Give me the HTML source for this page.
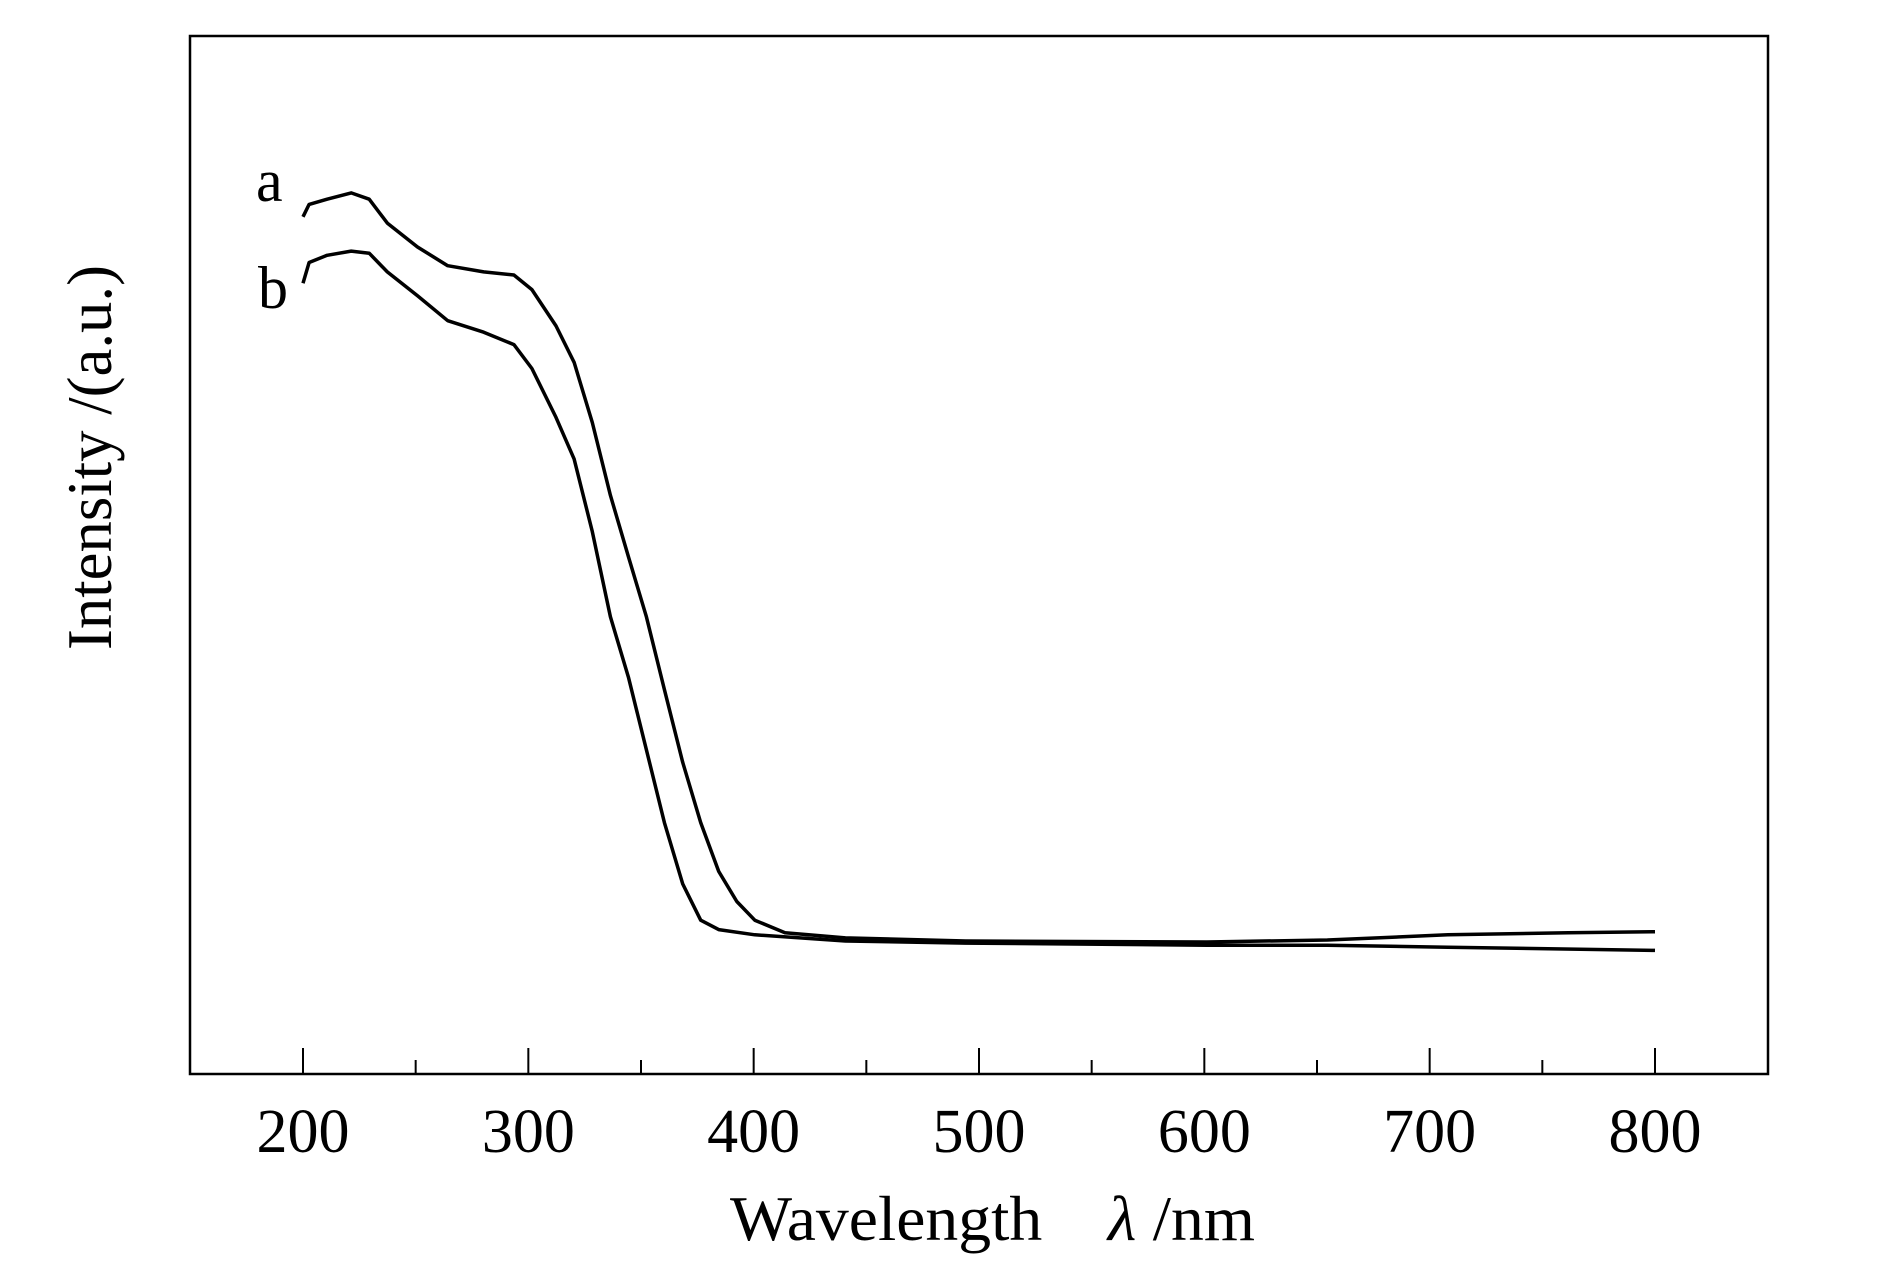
<!DOCTYPE html>
<html><head><meta charset="utf-8"><style>
html,body{margin:0;padding:0;background:#fff;}
svg{display:block;}
text{font-family:"Liberation Serif",serif;fill:#000;}
</style></head><body>
<svg id="chart" width="1890" height="1276" viewBox="0 0 1890 1276" xmlns="http://www.w3.org/2000/svg">
<rect x="190" y="36" width="1578" height="1038" fill="none" stroke="#000" stroke-width="2.5"/>
<g id="ticks"></g>
<g id="series"></g>
<text transform="translate(111,650) rotate(-90)" font-size="64" textLength="385" lengthAdjust="spacingAndGlyphs">Intensity /(a.u.)</text>
<text x="730" y="1240" font-size="64" textLength="525" lengthAdjust="spacingAndGlyphs" xml:space="preserve">Wavelength    <tspan font-style="italic">λ</tspan> /nm</text>
<text x="256" y="201" font-size="60">a</text>
<text x="258" y="308" font-size="60">b</text>
</svg>
<script>
const tickValues=[200,250,300,350,400,450,500,550,600,650,700,750,800];
const tickLabels=["200","300","400","500","600","700","800"];
const wlA=[200,202.7,210.7,221.4,229.4,237.4,250.8,264.2,280.2,293.6,301.6,312.3,320.3,328.4,336.4,344.4,352.4,360.4,368.5,376.5,384.5,392.5,400.5,413.9,440.7,494.1,601.1,654.6,708.1,761.5,800];
const valA=[82.5,83.7,84.2,84.8,84.2,81.9,79.6,77.8,77.2,76.9,75.5,72.0,68.5,62.7,55.7,49.8,44.0,37.0,30.0,24.2,19.5,16.6,14.8,13.6,13.1,12.8,12.7,12.9,13.4,13.6,13.7];
const wlB=[200,202.7,210.7,221.4,229.4,237.4,250.8,264.2,280.2,293.6,301.6,312.3,320.3,328.4,336.4,344.4,352.4,360.4,368.5,376.5,384.5,400.5,440.7,494.1,601.1,654.6,708.1,800];
const valB=[76.1,78.1,78.8,79.2,79.0,77.2,74.9,72.5,71.4,70.2,67.9,63.2,59.2,52.2,44.0,38.2,31.2,24.2,18.3,14.8,13.9,13.4,12.8,12.6,12.4,12.4,12.2,11.9];
const NS="http://www.w3.org/2000/svg";
function xs(w){return 303+(w-200)*(1655-303)/600;}
function ys(v){return 1074-v*10.39;}
const tg=document.getElementById('ticks');
tickValues.forEach(function(t){
  const major=(t%100===0);
  const l=document.createElementNS(NS,'line');
  
  
  l.setAttribute('x1',xs(t));l.setAttribute('x2',xs(t));
  l.setAttribute('y1',1074);l.setAttribute('y2',major?1048:1060);
  l.setAttribute('stroke','#000');l.setAttribute('stroke-width','2');
  tg.appendChild(l);
});
tickLabels.forEach(function(s){
  const t=document.createElementNS(NS,'text');
  
  
  t.setAttribute('x',xs(+s));t.setAttribute('y',1152);
  t.setAttribute('font-size','62');t.setAttribute('text-anchor','middle');
  t.textContent=s;tg.appendChild(t);
});
const sg=document.getElementById('series');
function draw(w,v,name){
  let d='';
  for(let i=0;i<w.length;i++){d+=(i?'L':'M')+xs(w[i]).toFixed(1)+','+ys(v[i]).toFixed(1);}
  const p=document.createElementNS(NS,'path');
  
  
  p.setAttribute('d',d);p.setAttribute('fill','none');
  p.setAttribute('stroke','#000');p.setAttribute('stroke-width','3.5');
  p.setAttribute('stroke-linejoin','round');
  sg.appendChild(p);
}
draw(wlA,valA,'series-a-line');
draw(wlB,valB,'series-b-line');
</script>
</body></html>
